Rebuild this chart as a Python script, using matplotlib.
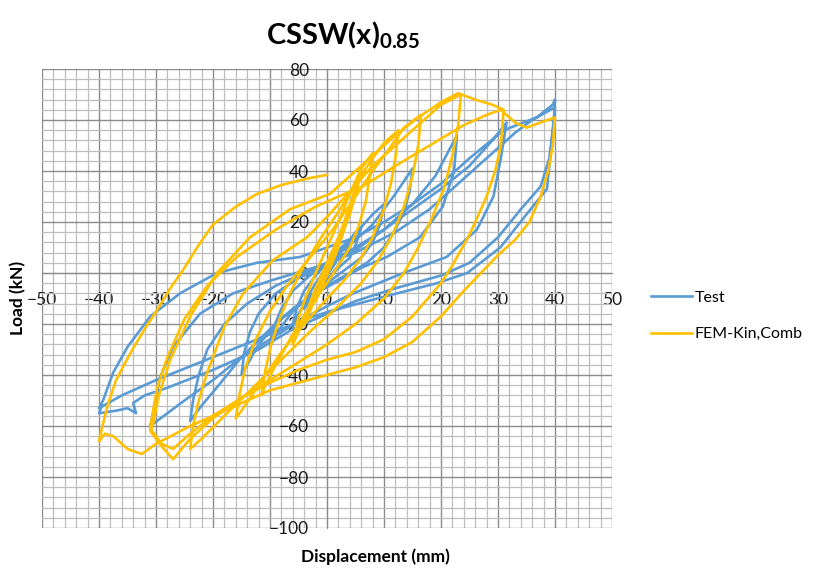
import numpy as np
import matplotlib
matplotlib.use("Agg")
import matplotlib.pyplot as plt
from matplotlib.ticker import MultipleLocator

plt.rcParams['font.family'] = ['Lato', 'DejaVu Sans']
plt.rcParams['mathtext.fontset'] = 'custom'
plt.rcParams['mathtext.rm'] = 'Lato'
plt.rcParams['mathtext.bf'] = 'Lato:bold'

# ---- Test (blue) hysteresis, cycle by cycle ----
test_small = [(0, 0), (1, 5), (2, 9), (1.5, 4), (0, -1), (-1, -5), (-2, -9), (-1.5, -4), (0, 1), (1, 5), (2, 9),
              (3, 11), (4, 13), (3.3, 8), (2, 3), (0, -3), (-2, -8), (-3, -11), (-4, -14), (-3.3, -9), (-2, -4),
              (0, 2), (2, 7), (4, 13), (5, 16), (6, 18), (5.2, 12), (4, 6), (2, 2), (0, -3), (-2, -8), (-4, -12),
              (-6, -20), (-5.2, -13), (-4, -7), (-2, -1), (0, 4), (3, 10), (6, 18)]
test_p10 = [(8, 23), (10, 27), (9.3, 19), (8, 12), (6, 6), (3, 1), (0, -4), (-3, -9), (-6, -15), (-9, -24),
            (-10, -29), (-9.3, -21), (-8, -14), (-6, -7), (-3, -1), (0, 4), (4, 11), (8, 19), (10, 25), (12, 31),
            (15, 41)]
test_p15 = [(14.5, 32), (13.5, 24), (12, 17), (10, 10), (7, 4), (4, 0), (0, -5), (-4, -11), (-8, -18), (-12, -28),
            (-15, -40), (-14.5, -31), (-13.5, -23), (-12, -16), (-9, -8), (-5, -2), (0, 3), (5, 9), (10, 17),
            (15, 27), (19, 38), (22.8, 54)]
test_p23 = [(22.3, 40), (20.3, 26), (16.3, 14), (10.5, 6.3), (6, 2), (2.3, -2.7), (-2, -8), (-6, -14), (-10, -22),
            (-15, -33), (-19, -44), (-22, -52), (-24, -58), (-23.5, -50), (-22.5, -40), (-21, -30), (-18, -20),
            (-14, -12), (-9, -5), (-4, 0), (0, 4), (5, 10), (10, 17), (15, 25), (20, 33), (25, 42), (29, 52),
            (31.5, 59)]
test_p31 = [(30.5, 45), (29.2, 30), (26.3, 17), (21, 6.3), (13.4, 0), (4.6, -8), (0, -13), (-5, -19), (-10, -26),
            (-15, -33), (-20, -42), (-25, -50), (-28, -55), (-31, -60), (-30.5, -55), (-29.3, -41), (-27, -29),
            (-22.3, -16), (-16.5, -8), (-9.5, -2.7), (-1.8, 2.4), (5, 8), (12, 16), (18, 25), (23, 35), (28, 45),
            (33, 55), (36, 60), (40, 65)]
test_p40a = [(39.6, 55), (38.6, 33), (35, 23), (30.4, 10), (24.6, 0), (19.3, -4), (10.5, -9), (0.5, -15),
             (-5, -19), (-10, -24), (-20, -33), (-30, -42), (-36, -48), (-40, -53), (-39.3, -50), (-37.5, -39),
             (-35, -29), (-31, -17), (-25.8, -8), (-19.3, 0), (-12.3, 4), (-4.7, 6.3), (0, 10), (5, 14), (10, 20),
             (15, 27), (20, 35), (25, 45), (31, 56), (36.8, 61), (39.6, 66), (40, 68)]
test_p40b = [(39.8, 60), (39, 45), (37.5, 34), (34, 25), (30, 14), (25, 4), (20, -1), (12, -6), (5, -11), (0, -16),
             (-6, -22), (-12, -30), (-20, -38), (-28, -45), (-32, -48), (-34, -51), (-33.5, -55), (-35, -53),
             (-37, -54), (-40, -55), (-39.5, -52)]

# ---- FEM-Kin,Comb (yellow) ----
fem_small = [(0, 0), (1, 6), (2, 12), (1.4, 7), (0, 0), (-1, -6), (-2, -11), (-1.4, -6), (0, 2), (1, 7), (2, 12),
             (3, 19), (4, 26), (3.3, 19), (2, 10), (0, -1), (-2, -10), (-3, -15), (-4, -20), (-3.2, -13), (-2, -6),
             (0, 4), (2, 14), (3, 20), (4, 26), (5, 34), (6, 41), (5.2, 32), (4, 23), (2, 12), (0, 1), (-2, -9),
             (-4, -18), (-6, -28), (-5.2, -19), (-4, -11), (-2, 0), (0, 10), (2, 20), (4, 31), (6, 41)]
fem_p8 = [(8, 47), (7.5, 38), (6.8, 28), (5.5, 18), (4, 10), (2, 3), (0, -4), (-3, -13), (-6, -24), (-9, -36),
          (-11, -45), (-11.5, -48), (-10.8, -38), (-9.8, -28), (-8.3, -18), (-6.5, -8), (-4, 3), (-1, 14), (2, 24),
          (5, 35), (8, 45), (10, 51), (12.5, 56)]
fem_p12 = [(12, 45), (11.2, 35), (10, 25), (8, 14), (6, 6), (3, -3), (0, -10), (-4, -20), (-8, -31), (-12, -44),
           (-15, -54), (-16, -57), (-15.3, -47), (-14.3, -37), (-12.5, -26), (-10, -15), (-7, -5), (-3, 6), (1, 17),
           (5, 30), (8, 40), (11, 49), (13.5, 57), (16.5, 62)]
fem_p16 = [(16, 50), (15, 38), (13.5, 26), (11.5, 15), (9, 5), (6, -4), (2, -13), (-3, -23), (-8, -34), (-13, -45),
           (-18, -56), (-22, -65), (-24, -69), (-23.5, -60), (-22.5, -50), (-21, -39), (-18, -21), (-14.7, -8),
           (-9.5, 5), (-3.5, 14), (0, 22), (4, 32), (8, 42), (12, 50), (16, 58), (20, 66), (23.5, 70)]
fem_p23 = [(23, 58), (22, 46), (20.5, 33), (18.5, 22), (16, 10), (13.5, 0), (10, -10), (5, -20), (0, -28),
           (-5, -35), (-10, -42), (-15, -49), (-20, -57), (-24, -65), (-27, -73), (-29, -68), (-31, -62),
           (-30.5, -59), (-29.5, -48), (-27.5, -34), (-24, -17), (-19.3, 0), (-13.5, 14), (-6.5, 25), (0.5, 31),
           (4, 38), (8, 46), (12, 54), (16, 61), (20, 67), (23, 70.5), (26, 68), (29, 66), (31, 64)]
fem_p31 = [(30.5, 50), (29.5, 40), (28, 30), (25, 15), (22, 3), (20, -4), (15, -17), (10, -26), (5, -31), (0, -34),
           (-5, -38), (-10, -43), (-15, -49), (-20, -56), (-24, -63), (-27, -69), (-29, -67), (-31, -61),
           (-30.6, -55), (-29.8, -45), (-28, -33), (-25, -18), (-21, -5), (-16, 6), (-9, 17), (-2, 26), (2, 30),
           (6.3, 34), (12, 42), (18, 50), (24, 58), (28, 62), (30.5, 64), (33, 59), (35, 57), (37.5, 59), (40, 61)]
fem_p40 = [(39.6, 50), (38.8, 40), (37.5, 30), (35.5, 20), (33, 13), (30, 7), (27, 0), (24, -7), (20, -17),
           (15, -27), (10, -33), (5, -37), (0, -40), (-5, -43), (-10, -46), (-17, -53), (-24, -60), (-30, -67),
           (-32.5, -71), (-35, -69), (-37.5, -64), (-39, -63), (-40, -66), (-39.6, -62), (-38.5, -52), (-37, -42),
           (-34.4, -31), (-32, -22), (-29.8, -14.5), (-27.5, -6), (-25.3, 1), (-22.5, 11), (-20, 19), (-16, 26),
           (-12.3, 31), (-8, 34.5), (-3.5, 37), (0, 38.5)]

test = np.array(test_small + test_p10 + test_p15 + test_p23 + test_p31 + test_p40a + test_p40b)
fem = np.array(fem_small + fem_p8 + fem_p12 + fem_p16 + fem_p23 + fem_p31 + fem_p40)

fig = plt.figure(figsize=(8.16, 5.71), dpi=100)
ax = fig.add_axes([42 / 816, 1 - 528 / 571, 570 / 816, 459 / 571])

ax.plot(test[:, 0], test[:, 1], color='#5B9BD5', lw=1.9, label='Test', zorder=3)
ax.plot(fem[:, 0], fem[:, 1], color='#FFC000', lw=1.9, label='FEM-Kin,Comb', zorder=4)

ax.set_xlim(-50, 50)
ax.set_ylim(-100, 80)
ax.xaxis.set_major_locator(MultipleLocator(10))
ax.xaxis.set_minor_locator(MultipleLocator(2))
ax.yaxis.set_major_locator(MultipleLocator(20))
ax.yaxis.set_minor_locator(MultipleLocator(4))
ax.grid(which='major', color='#8C8C8C', lw=1.0)
ax.grid(which='minor', color='#BDBDBD', lw=0.9)
ax.set_axisbelow(True)

for s in ['top', 'right']:
    ax.spines[s].set_visible(False)
ax.spines['left'].set_position(('data', 0))
ax.spines['bottom'].set_position(('data', 0))
for s in ['left', 'bottom']:
    ax.spines[s].set_color('#8C8C8C')
    ax.spines[s].set_zorder(1)
ax.tick_params(which='both', length=0, labelsize=12.5, colors='#1a1a1a')
ax.tick_params(axis='x', pad=14)
ax.tick_params(axis='y', pad=13)

fig.text(343 / 816, 1 - 35 / 571, r'CSSW(x)$_{\mathbf{0.85}}$', ha='center', va='center',
         fontsize=21, fontweight='bold')
fig.text(375 / 816, 1 - 557 / 571, 'Displacement (mm)', ha='center', va='center',
         fontsize=12.5, fontweight='bold')
fig.text(18 / 816, 1 - 298 / 571, 'Load (kN)', ha='center', va='center', rotation=90,
         fontsize=12.5, fontweight='bold')

ax.legend(loc='center left', bbox_to_anchor=(641 / 816, 1 - 316 / 571), bbox_transform=fig.transFigure,
          frameon=False, fontsize=11.5, handlelength=2.6, labelspacing=1.4, handletextpad=0.15,
          borderaxespad=0.2)

fig.savefig('out.png', dpi=100)
